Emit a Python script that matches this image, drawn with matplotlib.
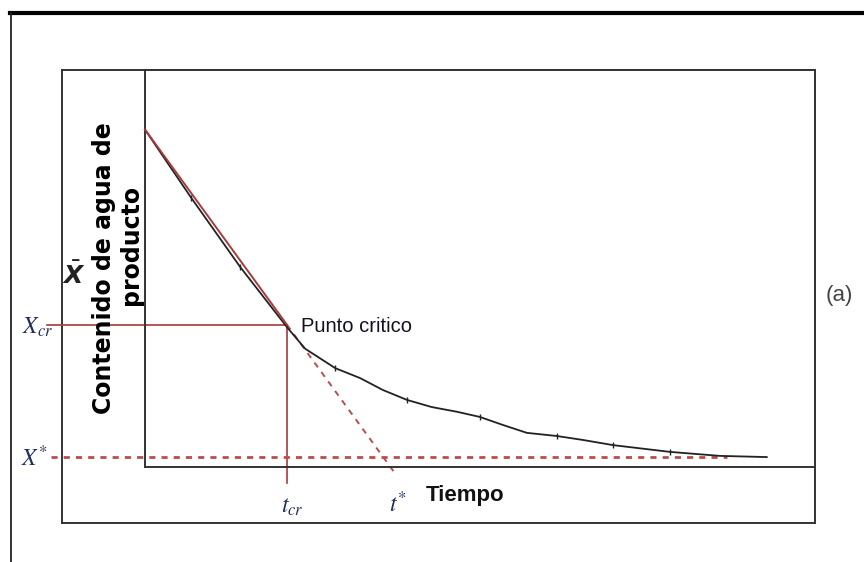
import matplotlib
matplotlib.use("Agg")
import matplotlib.pyplot as plt
from matplotlib.lines import Line2D
import numpy as np

# drying curve (time units, moisture fraction of axis height)
tiempo = [0.0, 0.30, 0.69, 1.42, 2.12, 2.39, 2.84, 3.21, 3.55, 3.91, 4.28, 4.66,
          5.00, 5.34, 5.70, 6.15, 6.54, 6.99, 7.34, 7.84, 8.58, 9.28]
contenido = [0.850, 0.775, 0.678, 0.504, 0.352, 0.298, 0.249, 0.224, 0.194, 0.169,
             0.151, 0.139, 0.126, 0.106, 0.086, 0.078, 0.068, 0.055, 0.048, 0.038,
             0.028, 0.025]

t_cr = 2.12
x_cr = 0.358
x_star = 0.025
t_ref_left = -1.46      # where the guide lines start, left of the axis
t_dash_end = 8.69
y_below = -0.04

W, H = 864, 562
def fx(px):
    return px / W
def fy(py):
    return 1 - py / H

red = "#a83a3a"
red_d = "#bb4c4c"
navy = "#1f2d5c"

fig = plt.figure(figsize=(8.64, 5.62), dpi=100)

# page frame lines
fig.add_artist(Line2D([fx(10), 1], [fy(13), fy(13)], lw=3, color="black"))
fig.add_artist(Line2D([fx(11), fx(11)], [0, fy(13)], lw=1.3, color="#222222"))

# outer box
ax_out = fig.add_axes([fx(62), fy(523), (815 - 62) / W, (523 - 70) / H])
ax_out.set_xticks([])
ax_out.set_yticks([])
for s in ax_out.spines.values():
    s.set_linewidth(1.4)
    s.set_color("#333333")

# plot area
ax = fig.add_axes([fx(145), fy(467), (815 - 145) / W, (467 - 70) / H])
ax.set_xlim(0, 10)
ax.set_ylim(0, 1)
ax.set_xticks([])
ax.set_yticks([])
for s in ax.spines.values():
    s.set_linewidth(1.4)
    s.set_color("#333333")

# tangent of the constant-rate period
t0, x0 = tiempo[0], contenido[0]
slope = (x_cr - x0) / (t_cr - t0)
t_star = t0 + (x_star - x0) / slope
t_tan_end = t0 + (-0.02 - x0) / slope

ax.plot(tiempo, contenido, color="#222222", lw=1.3, marker="|", ms=4,
        markevery=[2, 3, 6, 9, 12, 15, 17, 19], clip_on=False, zorder=3)
ax.plot([t0, t_cr], [x0, x_cr], color=red, lw=1.4, clip_on=False, zorder=4)
ax.plot([t_cr, t_tan_end], [x_cr, -0.02], color=red_d, lw=1.4, ls=(0, (3, 3)),
        clip_on=False, zorder=2)
ax.plot([t_ref_left, t_cr], [x_cr, x_cr], color=red, lw=1.2, clip_on=False)
ax.plot([t_cr, t_cr], [x_cr, y_below], color=red, lw=1.2, clip_on=False)
ax.plot([t_ref_left + 0.05, t_dash_end], [x_star, x_star], color=red_d, lw=2,
        ls=(0, (2.2, 2.2)), clip_on=False, zorder=2)

# labels
sans = ["Liberation Sans", "DejaVu Sans"]
fig.text(fx(301), fy(327), "Punto critico", family=sans, fontsize=14.5,
         color="#111122", va="center", ha="left")
fig.text(fx(839), fy(296), "(a)", family=sans, fontsize=16,
         color="#444444", va="center", ha="center")
fig.text(fx(465), fy(495), "Tiempo", family=sans, fontweight="bold",
         fontsize=16, color="#111111", va="center", ha="center")

fig.text(fx(104), fy(268), "Contenido de agua de", family="DejaVu Sans",
         fontweight="bold", fontsize=17, rotation=90, va="center", ha="center")
fig.text(fx(131), fy(245), "producto", family="DejaVu Sans",
         fontweight="bold", fontsize=17, rotation=90, va="center", ha="center")
fig.text(fx(74), fy(275), r"$\bar{\mathbfit{X}}$", fontsize=18,
         math_fontfamily="dejavusans", va="center", ha="center", color="#222222")

fig.text(fx(38), fy(327), r"$X_{cr}$", fontsize=17, math_fontfamily="stix",
         color=navy, va="center", ha="center")
fig.text(fx(34), fy(458), r"$X^{*}$", fontsize=17, math_fontfamily="stix",
         color=navy, va="center", ha="center")
fig.text(fx(292), fy(506), r"$t_{cr}$", fontsize=17, math_fontfamily="stix",
         color=navy, va="center", ha="center")
fig.text(fx(398), fy(504), r"$t^{*}$", fontsize=17, math_fontfamily="stix",
         color=navy, va="center", ha="center")

fig.savefig("out.png", dpi=100)
